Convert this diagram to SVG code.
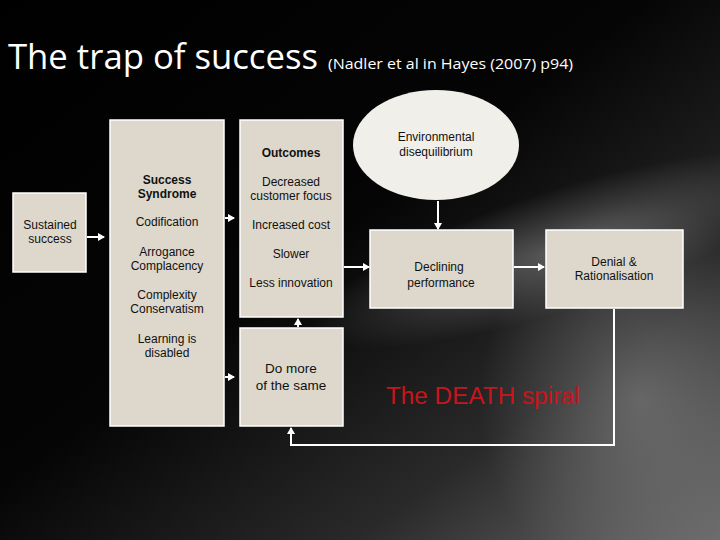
<svg xmlns="http://www.w3.org/2000/svg" width="720" height="540" viewBox="0 0 720 540">
<defs>
<linearGradient id="bg" x1="0" y1="0" x2="1" y2="1">
<stop offset="0" stop-color="#000"/>
<stop offset="0.45" stop-color="#050505"/>
<stop offset="0.75" stop-color="#2a2a2a"/>
<stop offset="1" stop-color="#6a6a6a"/>
</linearGradient>
<radialGradient id="glow" cx="0.5" cy="0.5" r="0.5">
<stop offset="0" stop-color="#8a8a8a" stop-opacity="0.55"/>
<stop offset="1" stop-color="#8a8a8a" stop-opacity="0"/>
</radialGradient>
<marker id="ah" markerWidth="8" markerHeight="8" refX="6" refY="4" orient="auto" markerUnits="userSpaceOnUse">
<path d="M0,0 L7,4 L0,8 Z" fill="#fff"/>
</marker>
<style>
.box{fill:#ddd8cb;stroke:#fff;stroke-width:1.5}
.ell{fill:#f1efea;stroke:none}
.t{font-family:"Liberation Sans",Arial,sans-serif;font-size:12px;fill:#111;text-anchor:middle}
.b{font-weight:bold}
.big{font-size:13.5px}
.c{stroke:#fff;stroke-width:2;fill:none}
</style>
</defs>
<rect width="720" height="540" fill="url(#bg)"/>
<ellipse cx="560" cy="250" rx="260" ry="60" fill="url(#glow)" transform="rotate(-18 560 250)"/>
<ellipse cx="640" cy="400" rx="160" ry="200" fill="url(#glow)"/>
<text x="8" y="69" font-family="'Open Sans','Liberation Sans',sans-serif" font-size="35" fill="#fff" textLength="310" lengthAdjust="spacingAndGlyphs">The trap of success</text>
<text x="328" y="69" font-family="'Open Sans','Liberation Sans',sans-serif" font-size="15" fill="#fff" textLength="245" lengthAdjust="spacingAndGlyphs">(Nadler et al in Hayes (2007) p94)</text>

<g id="connectors">
<line class="c" x1="87" y1="237" x2="104" y2="237" marker-end="url(#ah)"/>
<line class="c" x1="225" y1="218" x2="234" y2="218" marker-end="url(#ah)"/>
<line class="c" x1="225" y1="377" x2="234" y2="377" marker-end="url(#ah)"/>
<line class="c" x1="298" y1="327" x2="298" y2="319" marker-end="url(#ah)"/>
<line class="c" x1="344" y1="267" x2="369" y2="267" marker-end="url(#ah)"/>
<line class="c" x1="514" y1="267" x2="544" y2="267" marker-end="url(#ah)"/>
<line class="c" x1="438" y1="201" x2="438" y2="229" marker-end="url(#ah)"/>
<polyline class="c" points="614,309 614,445 291,445 291,428" marker-end="url(#ah)"/>
</g>

<g id="sustained">
<rect class="box" x="13" y="193" width="73" height="79"/>
<text class="t" x="50" y="229">Sustained</text>
<text class="t" x="50" y="243">success</text>
</g>
<g id="syndrome">
<rect class="box" x="110" y="120" width="114" height="306"/>
<text class="t b" x="167" y="184">Success</text>
<text class="t b" x="167" y="198">Syndrome</text>
<text class="t" x="167" y="226">Codification</text>
<text class="t" x="167" y="256">Arrogance</text>
<text class="t" x="167" y="270">Complacency</text>
<text class="t" x="167" y="299">Complexity</text>
<text class="t" x="167" y="313">Conservatism</text>
<text class="t" x="167" y="343">Learning is</text>
<text class="t" x="167" y="357">disabled</text>
</g>
<g id="outcomes">
<rect class="box" x="240" y="120" width="103" height="197"/>
<text class="t b" x="291" y="157">Outcomes</text>
<text class="t" x="291" y="186">Decreased</text>
<text class="t" x="291" y="200">customer focus</text>
<text class="t" x="291" y="229">Increased cost</text>
<text class="t" x="291" y="258">Slower</text>
<text class="t" x="291" y="287">Less innovation</text>
</g>
<g id="domore">
<rect class="box" x="240" y="328" width="103" height="98"/>
<text class="t big" x="291" y="373">Do more</text>
<text class="t big" x="291" y="390">of the same</text>
</g>
<g id="environment">
<ellipse class="ell" cx="436" cy="145" rx="83" ry="55"/>
<text class="t" x="436" y="141">Environmental</text>
<text class="t" x="436" y="156">disequilibrium</text>
</g>
<g id="declining">
<rect class="box" x="370" y="230" width="143" height="78"/>
<text class="t" x="439" y="271">Declining</text>
<text class="t" x="441" y="287">performance</text>
</g>
<g id="denial">
<rect class="box" x="546" y="230" width="137" height="78"/>
<text class="t" x="614" y="266">Denial &amp;</text>
<text class="t" x="614" y="280">Rationalisation</text>
</g>
<text x="386" y="404" font-family="'Liberation Sans',Arial,sans-serif" font-size="23" fill="#c8141c" textLength="194" lengthAdjust="spacingAndGlyphs">The DEATH spiral</text>
</svg>
